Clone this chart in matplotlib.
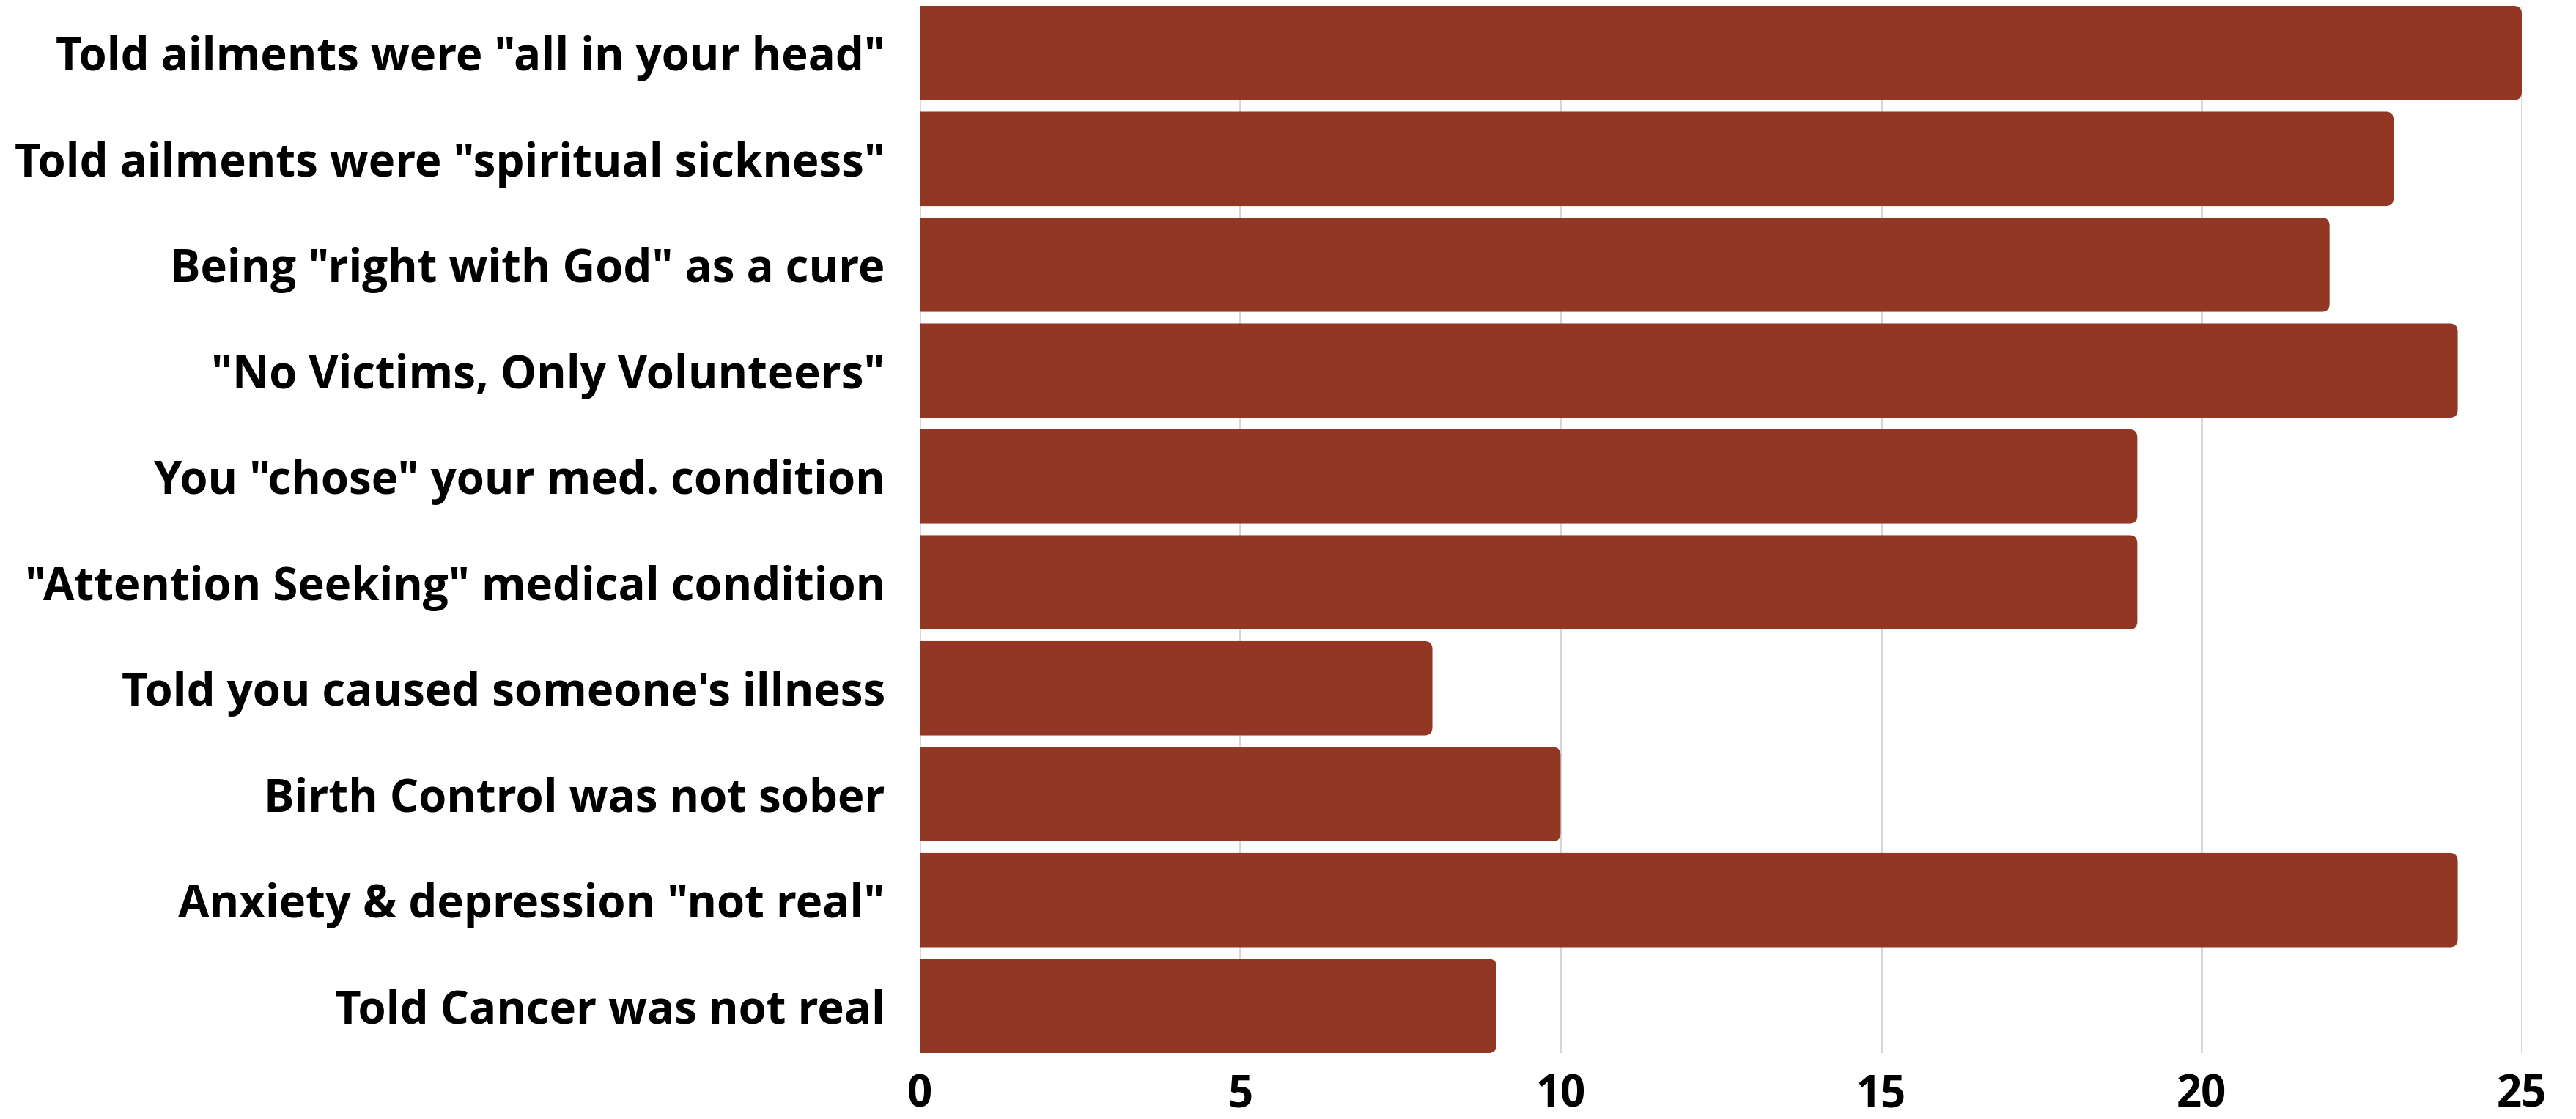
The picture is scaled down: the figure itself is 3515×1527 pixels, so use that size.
import matplotlib.pyplot as plt
from matplotlib.path import Path
from matplotlib.patches import PathPatch

labels = [
    'Told ailments were "all in your head"',
    'Told ailments were "spiritual sickness"',
    'Being "right with God" as a cure',
    '"No Victims, Only Volunteers"',
    'You "chose" your med. condition',
    '"Attention Seeking" medical condition',
    "Told you caused someone's illness",
    'Birth Control was not sober',
    'Anxiety & depression "not real"',
    'Told Cancer was not real',
]
counts = [25, 23, 22, 24, 19, 19, 8, 10, 24, 9]
xticks = [0, 5, 10, 15, 20, 25]

bar_color = "#933725"
plt.rcParams['font.family'] = ['Open Sans', 'DejaVu Sans']

fig = plt.figure(figsize=(35.15, 15.27), dpi=100)
ax = fig.add_axes([1255/3515, 1 - 1437/1527, (3441-1255)/3515, (1437-8)/1527])

h = 0.89
ypos = list(range(len(labels)))
bars = ax.barh(ypos, counts, height=h, color=bar_color)

# redraw each bar with rounded right-hand corners
rx, ry = 0.12, 0.075
for b in bars:
    x0, y0 = b.get_x(), b.get_y()
    x1, y1 = x0 + b.get_width(), y0 + b.get_height()
    verts = [(x0, y0), (x1 - rx, y0), (x1, y0), (x1, y0 + ry),
             (x1, y1 - ry), (x1, y1), (x1 - rx, y1), (x0, y1), (x0, y0)]
    codes = [Path.MOVETO, Path.LINETO, Path.CURVE3, Path.CURVE3,
             Path.LINETO, Path.CURVE3, Path.CURVE3, Path.LINETO, Path.CLOSEPOLY]
    b.set_visible(False)
    ax.add_patch(PathPatch(Path(verts, codes), fc=bar_color, ec="none", zorder=2))

ax.set_xlim(0, 25)
ax.set_ylim(len(labels) - 1 + h/2, -h/2)
ax.set_yticks(ypos)
ax.set_yticklabels(labels)
ax.set_xticks(xticks)
ax.set_xticklabels([str(t) for t in xticks])

ax.tick_params(axis='y', length=0, pad=34, labelsize=44.5)
ax.tick_params(axis='x', length=0, pad=20, labelsize=43)
for t in ax.get_yticklabels() + ax.get_xticklabels():
    t.set_fontweight('bold')

ax.grid(axis='x', color="#d4d4d4", linewidth=2, zorder=0)
ax.set_axisbelow(True)
for s in ax.spines.values():
    s.set_visible(False)

fig.savefig("out.png", dpi=100)
